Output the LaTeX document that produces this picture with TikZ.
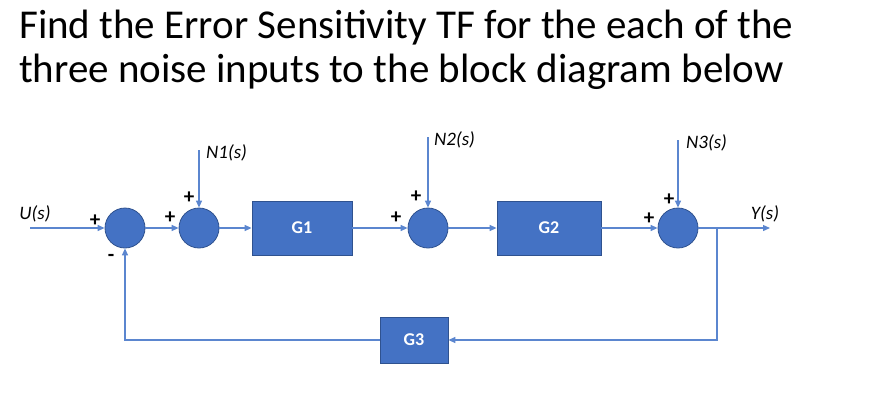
\documentclass[tikz,border=0pt]{standalone}
\usepackage{fontspec}
\setmainfont{Carlito}
\usetikzlibrary{arrows.meta}
\definecolor{fillblue}{HTML}{4472C4}
\definecolor{edgeblue}{HTML}{2F528F}
\definecolor{lineblue}{HTML}{5B86CF}
\begin{document}
\begin{tikzpicture}[x=1pt,y=-1pt,
  sumnode/.style={circle,minimum size=40pt,inner sep=0pt,fill=fillblue,draw=edgeblue,line width=0.8pt},
  blocknode/.style={rectangle,inner sep=0pt,fill=fillblue,draw=edgeblue,line width=0.8pt,text=white,font=\fontsize{18}{20}\selectfont\bfseries},
  sig/.style={draw=lineblue,line width=1.3pt,-{Triangle[length=7pt,width=6pt]}},
  lbl/.style={font=\fontsize{19}{20}\selectfont\itshape,inner sep=0pt},
  sgn/.style={font=\fontsize{21}{22}\selectfont\bfseries,inner sep=0pt}]
\useasboundingbox (0,0) rectangle (876,418);
\node[anchor=base west,inner sep=0pt,font=\fontsize{41}{44}\selectfont] (t1) at (19,38) {Find the Error Sensitivity TF for the each of the};
\node[anchor=base west,inner sep=0pt,font=\fontsize{41}{44}\selectfont] (t2) at (19,82) {three noise inputs to the block diagram below};

\node[sumnode] (s1) at (125,228) {};
\node[sumnode] (s2) at (199,228) {};
\node[sumnode] (s3) at (428,228) {};
\node[sumnode] (s4) at (678,228) {};
\node[blocknode,minimum width=100pt,minimum height=54pt] (g1) at (302,228) {G1};
\node[blocknode,minimum width=104pt,minimum height=54pt] (g2) at (549,228) {G2};
\node[blocknode,minimum width=68pt,minimum height=46pt] (g3) at (414,340) {G3};

\coordinate (uin) at (30,228);
\coordinate (n1) at (199,150);
\coordinate (n2) at (428,137);
\coordinate (n3) at (678,140);
\coordinate (yout) at (770,228);
\coordinate (br) at (717,228);

\draw[sig] (uin) -- (s1);
\draw[sig] (s1) -- (s2);
\draw[sig] (s2) -- (g1);
\draw[sig] (g1) -- (s3);
\draw[sig] (s3) -- (g2);
\draw[sig] (g2) -- (s4);
\draw[sig] (s4) -- (yout);
\draw[sig] (n1) -- (s2);
\draw[sig] (n2) -- (s3);
\draw[sig] (n3) -- (s4);
\draw[sig] (br) |- (g3);
\draw[sig] (g3) -| (s1);

\node[lbl] (lu) at (35,214) {U(s)};
\node[lbl] (ly) at (765,214) {Y(s)};
\node[lbl,anchor=west] (l1) at (206,153) {N1(s)};
\node[lbl,anchor=west] (l2) at (434,140) {N2(s)};
\node[lbl,anchor=west] (l3) at (686,143) {N3(s)};

\node[sgn] (p1) at (95,221) {+};
\node[sgn] (m1) at (111,258) {-};
\node[sgn] (p2) at (170,218) {+};
\node[sgn] (p3) at (189,198) {+};
\node[sgn] (p4) at (396,218) {+};
\node[sgn] (p5) at (416,197) {+};
\node[sgn] (p6) at (649,219) {+};
\node[sgn] (p7) at (669,200) {+};
\end{tikzpicture}
\end{document}
